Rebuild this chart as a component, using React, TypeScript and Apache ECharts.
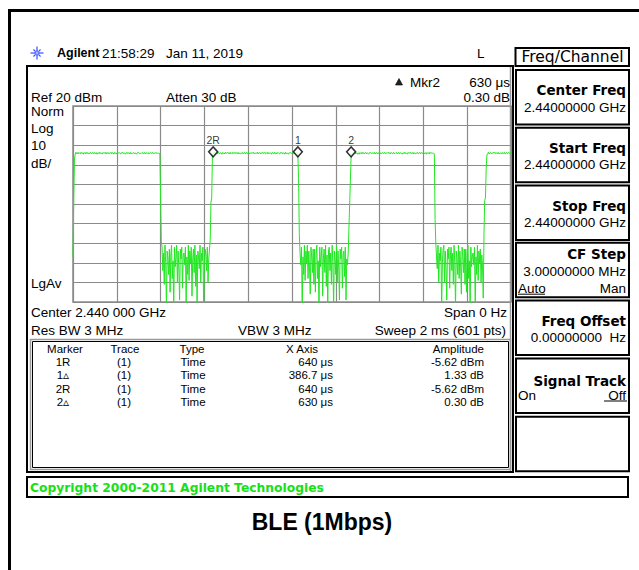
import React, { useEffect, useRef } from 'react';
import * as echarts from 'echarts';

// ---- Sweep settings (Span 0 Hz, Sweep 2 ms, 601 pts) ----
const SWEEP_US = 2000;
const POINTS = 601;
const REF_DBM = 20;
const BOTTOM_DBM = -80;
const DB_PER_DIV = 10;
const US_PER_DIV = 200;

// ---- Trace values (dBm), in sweep order ----
const lead = [-57, -28, -7];
const burst1 = [
  -4.8, -3.6, -4.3, -3.8, -4.5, -3.7, -4.1, -4.4, -3.6, -4.2,
  -3.9, -4.6, -3.7, -4.0, -4.4, -3.6, -4.3, -3.8, -4.5, -3.9,
  -4.2, -3.7, -4.4, -3.9, -3.6, -4.5, -4.0, -3.7, -4.3, -3.8,
  -4.6, -3.9, -4.1, -3.6, -4.4, -3.8, -4.2, -4.5, -3.7, -4.0,
  -3.8, -4.3, -3.6, -4.5, -4.0, -3.7, -4.4, -3.9, -4.2, -3.6,
  -4.4, -3.8, -4.0, -4.6, -3.7, -4.2, -3.9, -4.5, -3.6, -4.1,
  -3.7, -4.2, -4.5, -3.8, -4.1, -3.6, -4.4, -4.0, -3.9, -4.6,
  -4.1, -3.6, -4.3, -4.0, -3.8, -4.5, -3.7, -4.2, -4.4, -3.9,
  -3.6, -4.4, -3.9, -4.2, -4.6, -3.8, -4.0, -3.7, -4.3, -4.1,
  -4.3, -3.9, -3.6, -4.4, -4.1, -3.7, -4.5, -3.8, -4.0, -4.2,
  -3.8, -4.5, -4.1, -3.7, -4.3, -4.0, -3.6, -4.4, -3.9, -4.2,
  -4.0, -3.7, -4.3, -3.9, -4.1, -4.4, -4.2,
];
const fall1 = [-27, -49];
const noise1 = [
  -52, -64, -55, -71, -51, -60, -83, -54, -58, -66,
  -53, -75, -56, -51, -68, -59, -84, -52, -62, -57,
  -51, -70, -54, -63, -79, -53, -58, -52, -73, -56,
  -55, -61, -52, -84, -57, -66, -51, -69, -54, -60,
  -52, -77, -58, -53, -65, -51, -72, -56, -82, -54,
  -57, -63, -51, -70, -55, -59, -52, -84, -60, -53,
  -56, -64, -52, -70, -58, -53,
];
const rise2 = [-48, -29, -27];
const burst2 = [
  -5.4, -3.9, -4.1, -3.6, -4.4, -3.8, -4.2, -4.5, -3.7, -4.0,
  -4.4, -3.8, -4.0, -4.6, -3.7, -4.2, -3.9, -4.5, -3.6, -4.1,
  -4.0, -3.6, -4.3, -3.8, -4.5, -3.7, -4.1, -4.4, -3.6, -4.2,
  -4.1, -3.6, -4.3, -4.0, -3.8, -4.5, -3.7, -4.2, -4.4, -3.9,
  -4.2, -3.7, -4.4, -3.9, -3.6, -4.5, -4.0, -3.7, -4.3, -3.8,
  -3.8, -4.5, -4.1, -3.7, -4.3, -4.0, -3.6, -4.4, -3.9, -4.2,
  -3.8, -4.3, -3.6, -4.5, -4.0, -3.7, -4.4, -3.9, -4.2, -3.6,
  -4.3, -3.9, -3.6, -4.4, -4.1, -3.7, -4.5, -3.8, -4.0, -4.2,
  -3.9, -4.6, -3.7, -4.0, -4.4, -3.6, -4.3, -3.8, -4.5, -3.9,
  -3.7, -4.2, -4.5, -3.8, -4.1, -3.6, -4.4, -4.0, -3.9, -4.6,
  -3.6, -4.4, -3.9, -4.2, -4.6, -3.8, -4.0, -3.7, -4.3, -4.1,
  -3.9, -4.2, -3.7, -4.4, -4.0, -3.8, -4.1, -4.3,
];
const fall2 = [-17, -45];
const noise2 = [
  -55, -61, -52, -84, -57, -66, -51, -69, -54, -60,
  -51, -68, -54, -62, -76, -52, -57, -65, -53, -71,
  -53, -75, -56, -51, -68, -59, -84, -52, -62, -57,
  -52, -77, -58, -53, -65, -51, -72, -56, -82, -54,
  -52, -64, -55, -71, -51, -60, -83, -54, -58, -66,
  -51, -70, -54, -63, -79, -53, -58, -52, -73, -56,
  -54, -67, -52, -79, -58, -61,
];
const rise3 = [-55, -42, -30, -18];
const burst3 = [
  -5.0, -4.2, -4.5, -3.8, -4.1, -3.6, -4.4, -4.0, -3.9, -4.6,
  -3.9, -4.6, -3.7, -4.0, -4.4, -3.6, -4.3, -3.8, -4.5, -3.9,
  -3.6, -4.4, -3.9, -4.2, -4.6, -3.8, -4.0, -3.7, -4.3, -4.1,
  -3.8, -4.3, -3.6, -4.5, -4.0, -3.7, -4.4, -3.9, -4.2, -3.6,
  -3.8, -4.5, -4.1, -3.7, -4.3, -4.0, -3.6, -4.4, -3.9, -4.2,
  -4.0, -3.6, -4.3, -3.8, -4.5, -3.7, -4.1, -4.4, -3.6, -4.2,
  -4.3, -3.9, -3.6, -4.4, -4.1, -3.7, -4.5, -3.8, -4.0, -4.2,
  -4.6, -3.9, -4.1, -3.6, -4.4, -3.8, -4.2, -4.5, -3.7, -4.0,
  -4.1, -3.6, -4.3, -4.0, -3.8, -4.5, -3.7, -4.2, -4.4, -3.9,
  -4.2, -3.7, -4.4, -3.9, -3.6, -4.5, -4.0, -3.7, -4.3, -3.8,
  -4.4, -3.8, -4.0, -4.6, -3.7, -4.2, -3.9, -4.5, -3.6, -4.1,
  -4.0, -3.8, -4.3, -4.1, -4.5,
];
const fall3 = [-38, -50];
const noise3 = [
  -57, -63, -51, -70, -55, -59, -52, -84, -60, -53,
  -51, -70, -54, -63, -79, -53, -58, -52, -73, -56,
  -52, -64, -55, -71, -51, -60, -83, -54, -58, -66,
  -51, -68, -54, -62, -76, -52, -57, -65, -53, -71,
  -53, -75, -56, -51, -68, -59, -84, -52, -62, -57,
  -55, -61, -52, -84, -57, -66, -51, -69, -54, -60,
  -53, -70, -56, -62,
];
const rise4 = [-78, -45, -28, -27, -12];
const burst4 = [
  -5.0, -4.3, -3.6, -4.5, -4.0, -3.7, -4.4, -3.9, -4.2, -3.6,
  -4.1, -3.6, -4.3, -4.0, -3.8, -4.5, -3.7, -4.2, -4.4, -3.9,
  -4.2, -3.7, -4.4, -3.9, -3.6, -4.5, -4.0, -3.7, -4.3, -3.8,
  -3.9, -4.2, -3.7, -4.1,
];

// ---- Markers ----
const markerNames = ['2R', '1', '2'];
const markerTimesUs = [640, 1026.7, 1270];
const markerLevels = [-3.4, -3.4, -3.4];

// ---- Marker table ----
const tableHeader = ['Marker', 'Trace', 'Type', 'X Axis', 'Amplitude'];
const tableMarkers = ['1R', '1\u25B5', '2R', '2\u25B5'];
const tableTraces = ['(1)', '(1)', '(1)', '(1)'];
const tableTypes = ['Time', 'Time', 'Time', 'Time'];
const tableX = ['640 \u03BCs', '386.7 \u03BCs', '640 \u03BCs', '630 \u03BCs'];
const tableAmp = ['-5.62 dBm', '1.33 dB', '-5.62 dBm', '0.30 dB'];

// ---- Softkeys ----
const softTitles = ['Center Freq', 'Start Freq', 'Stop Freq', 'CF Step', 'Freq Offset', 'Signal Track', ''];
const softValues = ['2.44000000 GHz', '2.44000000 GHz', '2.44000000 GHz', '3.00000000 MHz', '0.00000000  Hz', '', ''];

const trace: number[] = [
  ...lead, ...burst1, ...fall1, ...noise1, ...rise2, ...burst2, ...fall2,
  ...noise2, ...rise3, ...burst3, ...fall3, ...noise3, ...rise4, ...burst4,
];

const F = '"Liberation Sans", Arial, sans-serif';
const MAIN = `13.5px ${F}`;
const SMALL = `11.5px ${F}`;

function buildGraphics() {
  const els: any[] = [];
  const text = (t: string, x: number, y: number, font = MAIN, align = 'left', fill = '#000') => {
    els.push({
      type: 'text', x, y, silent: true,
      style: {
        text: t, x: 0, y: 0, font, fill,
        align, textAlign: align, verticalAlign: 'middle', textVerticalAlign: 'middle',
      },
    });
  };
  const rect = (x: number, y: number, w: number, h: number, stroke = '#000', lw = 2) => {
    els.push({
      type: 'rect', silent: true, shape: { x, y, width: w, height: h },
      style: { fill: 'none', stroke, lineWidth: lw },
    });
  };
  const line = (x1: number, y1: number, x2: number, y2: number, stroke = '#000', lw = 1) => {
    els.push({
      type: 'line', silent: true, shape: { x1, y1, x2, y2 },
      style: { stroke, lineWidth: lw },
    });
  };

  // outer frame
  rect(9.5, 10.5, 700, 700, '#000', 3);

  // header
  const cx = 37, cy = 53;
  for (let k = 0; k < 8; k++) {
    const a = (k * Math.PI) / 4;
    const r = k % 2 === 0 ? 6.5 : 5;
    line(cx + Math.cos(a) * 2, cy + Math.sin(a) * 2, cx + Math.cos(a) * r, cy + Math.sin(a) * r, '#3550ff', 1.2);
  }
  els.push({ type: 'circle', silent: true, shape: { cx, cy, r: 2 }, style: { fill: '#a8b4ff', stroke: '#3550ff', lineWidth: 0.8 } });
  text('Agilent', 57, 53, `bold 12.5px ${F}`);
  text('21:58:29', 102, 53);
  text('Jan 11, 2019', 166, 53);
  text('L', 477, 53);

  // screen frame
  rect(27, 66, 486, 406, '#000', 2);
  line(510.5, 67, 510.5, 471, '#9a9a9a', 1.5);

  text('Ref 20 dBm', 31, 97);
  text('Atten 30 dB', 166, 97);
  els.push({ type: 'polygon', silent: true, shape: { points: [[395.5, 85], [402.5, 85], [399, 78.5]] }, style: { fill: '#222', stroke: '#000', lineWidth: 0.6 } });
  text('Mkr2', 440, 82, MAIN, 'right');
  text('630 \u03BCs', 510, 82, MAIN, 'right');
  text('0.30 dB', 510, 97, MAIN, 'right');

  text('Norm', 31, 111);
  text('Log', 31, 128);
  text('10', 31, 145);
  text('dB/', 31, 163);
  text('LgAv', 31, 283);

  text('Center 2.440 000 GHz', 31, 312);
  text('Span 0 Hz', 507, 312, MAIN, 'right');
  text('Res BW 3 MHz', 31, 330);
  text('VBW 3 MHz', 238, 330);
  text('Sweep 2 ms (601 pts)', 506, 330, MAIN, 'right');

  // marker table
  rect(30.5, 339.5, 480, 130, '#9a9a9a', 1.5);
  rect(32.5, 341.5, 476, 126, '#000', 1);
  const colX = [65, 125, 192, 318, 484];
  const colAlign = ['center', 'center', 'center', 'right', 'right'];
  tableHeader.forEach((h, i) => text(h, colX[i], 348.5, SMALL, colAlign[i]));
  const rowY = [362, 375.3, 388.6, 401.9];
  rowY.forEach((y, r) => {
    text(tableMarkers[r], 63, y, SMALL, 'center');
    text(tableTraces[r], 124, y, SMALL, 'center');
    text(tableTypes[r], 193, y, SMALL, 'center');
    text(tableX[r], 333, y, SMALL, 'right');
    text(tableAmp[r], 484, y, SMALL, 'right');
  });

  // right panel
  rect(515.5, 48, 113.5, 18, '#000', 2);
  text('Freq/Channel', 572.5, 57, `15.5px "DejaVu Sans", ${F}`, 'center');
  const softTops = [70, 127.7, 185.5, 242.7, 300.5, 358.5, 416.7];
  const TITLE = `bold 13.5px "DejaVu Sans", ${F}`;
  softTops.forEach((T, i) => {
    rect(516, T, 113, 54.5, '#000', 2);
    const title = softTitles[i];
    if (!title) return;
    if (title === 'CF Step') {
      text(title, 626, T + 11, TITLE, 'right');
      text(softValues[i], 626, T + 29, MAIN, 'right');
      text('Auto', 518, T + 46);
      line(518, T + 51.5, 545, T + 51.5, '#000', 1);
      text('Man', 626, T + 46, MAIN, 'right');
    } else if (title === 'Signal Track') {
      text(title, 626, T + 22, TITLE, 'right');
      text('On', 518, T + 37);
      text('Off', 626, T + 37, MAIN, 'right');
      line(604, T + 42.5, 627, T + 42.5, '#000', 1);
    } else {
      text(title, 626, T + 20, TITLE, 'right');
      text(softValues[i], 626, T + 37, MAIN, 'right');
    }
  });

  // copyright bar
  rect(27, 477, 601, 20, '#000', 2);
  text('Copyright 2000-2011 Agilent Technologies', 30, 487.5, `bold 12.3px "DejaVu Sans", ${F}`, 'left', '#16e016');

  // caption
  text('BLE (1Mbps)', 322, 522, `bold 23px ${F}`, 'center');

  return els;
}

export default function App() {
  const ref = useRef<HTMLDivElement>(null);
  useEffect(() => {
    if (!ref.current) return;
    const chart = echarts.init(ref.current, undefined, { renderer: 'svg' });
    const step = SWEEP_US / (POINTS - 1);
    const data = trace.map((v, i) => [i * step, v]);
    chart.setOption({
      animation: false,
      backgroundColor: '#fff',
      grid: {
        left: 73, top: 106, width: 438, height: 196,
        show: true, borderColor: '#8a8a8a', borderWidth: 1.5, backgroundColor: 'transparent',
      },
      xAxis: {
        type: 'value', min: 0, max: SWEEP_US, interval: US_PER_DIV,
        axisLabel: { show: false }, axisTick: { show: false }, axisLine: { show: false },
        splitLine: { show: true, lineStyle: { color: '#8a8a8a', width: 1.2 } },
      },
      yAxis: {
        type: 'value', min: BOTTOM_DBM, max: REF_DBM, interval: DB_PER_DIV,
        axisLabel: { show: false }, axisTick: { show: false }, axisLine: { show: false },
        splitLine: { show: true, lineStyle: { color: '#8a8a8a', width: 1.2 } },
      },
      series: [
        {
          type: 'line', data, showSymbol: false, symbol: 'none', clip: true, z: 3,
          lineStyle: { color: '#22e622', width: 1 },
        },
        {
          type: 'scatter', z: 5, symbol: 'diamond', symbolSize: [9, 10],
          data: markerTimesUs.map((t, i) => ({ name: markerNames[i], value: [t, markerLevels[i]] })),
          itemStyle: { color: '#fff', borderColor: '#000', borderWidth: 1.5 },
          label: { show: true, position: 'top', distance: 1, formatter: '{b}', color: '#000', fontSize: 10.5, fontFamily: F },
        },
      ],
      graphic: buildGraphics(),
    });
    return () => chart.dispose();
  }, []);
  return <div ref={ref} style={{ position: 'fixed', left: 0, top: 0, width: 639, height: 570, background: '#fff' }} />;
}
